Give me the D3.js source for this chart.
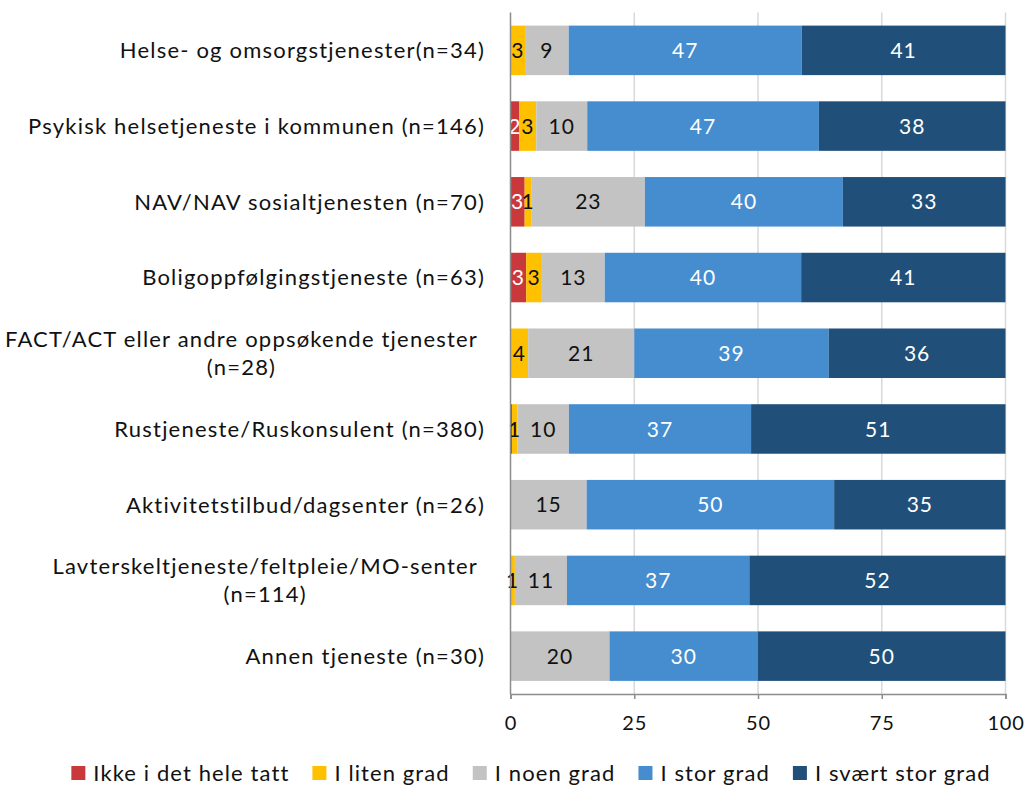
<!DOCTYPE html>
<html>
<head>
<meta charset="utf-8">
<script src="https://cdn.jsdelivr.net/npm/d3@7"></script>
<style>
  html, body { margin: 0; padding: 0; background: #fff; }
  svg { display: block; font-family: Lato, "Open Sans", sans-serif; }
</style>
</head>
<body>
<svg id="chart" width="1026" height="787"></svg>
<script>
// ---- Data (percent) ----
const categories = [
  "Helse- og omsorgstjenester(n=34)",
  "Psykisk helsetjeneste i kommunen (n=146)",
  "NAV/NAV sosialtjenesten (n=70)",
  "Boligoppfølgingstjeneste (n=63)",
  "FACT/ACT eller andre oppsøkende tjenester|(n=28)",
  "Rustjeneste/Ruskonsulent (n=380)",
  "Aktivitetstilbud/dagsenter (n=26)",
  "Lavterskeltjeneste/feltpleie/MO-senter|(n=114)",
  "Annen tjeneste (n=30)"
];
const seriesNames = ["Ikke i det hele tatt", "I liten grad", "I noen grad", "I stor grad", "I svært stor grad"];
const ikke   = [0,     1.8,  2.86,  3.17,  0,     0.3,  0,     0,     0];
const liten  = [2.94,  3.4,  1.43,  3.17,  3.57,  1.1,  0,     0.88,  0];
const noen   = [8.82,  10.3, 22.86, 12.7,  21.43, 10.4, 15.38, 10.53, 20];
const stor   = [47.06, 46.8, 40,    39.68, 39.29, 36.8, 50,    36.84, 30];
const svaert = [41.18, 37.7, 32.86, 41.27, 35.71, 51.4, 34.62, 51.75, 50];
const xTicks = [0, 25, 50, 75, 100];

const colors = ["#c9393b", "#ffc000", "#c3c3c3", "#458dcf", "#20507a"];
const labelColors = ["#ffffff", "#111111", "#111111", "#ffffff", "#ffffff"];

(function () {
const seriesValues = [ikke, liten, noen, stor, svaert];
const rows = categories.map((c, i) => {
  const r = { cat: c };
  seriesNames.forEach((s, k) => r[s] = seriesValues[k][i]);
  return r;
});

const svg = d3.select("#chart");
const pLeft = 510.5, pRight = 1005.5, pTop = 12.5, pBottom = 694;

const x = d3.scaleLinear().domain([0, 100]).range([pLeft, pRight]);
const y = d3.scaleBand().domain(categories).range([pTop, pBottom])
  .paddingInner(0.346).paddingOuter(0.173);

// gridlines
svg.append("g").selectAll("line").data(xTicks.filter(t => t > 0)).join("line")
  .attr("x1", d => x(d)).attr("x2", d => x(d))
  .attr("y1", pTop).attr("y2", pBottom)
  .attr("stroke", "#d9d9d9").attr("stroke-width", 1.5);

// bars
const stacked = d3.stack().keys(seriesNames)(rows);
const gSeries = svg.append("g").selectAll("g").data(stacked).join("g")
  .attr("fill", (d, i) => colors[i]);
gSeries.selectAll("rect").data(d => d).join("rect")
  .attr("x", d => x(d[0]))
  .attr("width", d => Math.max(0, x(d[1]) - x(d[0])))
  .attr("y", d => y(d.data.cat))
  .attr("height", y.bandwidth());

// value labels
stacked.forEach((s, k) => {
  svg.append("g").selectAll("text").data(s.filter(d => Math.round(d[1] - d[0]) >= 1)).join("text")
    .attr("x", d => x((d[0] + d[1]) / 2))
    .attr("y", d => y(d.data.cat) + y.bandwidth() / 2)
    .attr("dy", "0.36em")
    .attr("text-anchor", "middle")
    .attr("font-size", 21)
    .attr("letter-spacing", 1)
    .attr("fill", labelColors[k])
    .text(d => Math.round(d[1] - d[0]));
});

// y axis line
svg.append("line")
  .attr("x1", pLeft).attr("x2", pLeft).attr("y1", pTop).attr("y2", pBottom)
  .attr("stroke", "#8c8c8c").attr("stroke-width", 1.5);

// x axis
const xAxis = d3.axisBottom(x).tickValues(xTicks).tickSize(5).tickPadding(17).tickFormat(d3.format("d"));
const gx = svg.append("g").attr("transform", `translate(0,${pBottom})`).call(xAxis);
gx.select(".domain").attr("stroke", "#8c8c8c").attr("stroke-width", 1.5);
gx.selectAll(".tick line").attr("stroke", "#8c8c8c").attr("stroke-width", 1.5);
gx.selectAll(".tick text").attr("font-size", 20).attr("fill", "#111")
  .attr("letter-spacing", 0.8)
  .attr("font-family", "Lato, sans-serif");

// category labels
const catG = svg.append("g").attr("font-size", 22).attr("letter-spacing", 1.2).attr("fill", "#111");
categories.forEach(c => {
  const lines = c.split("|");
  const cy = y(c) + y.bandwidth() / 2;
  const lh = 28;
  if (lines.length === 1) {
    catG.append("text")
      .attr("x", 485).attr("y", cy).attr("dy", "0.36em")
      .attr("text-anchor", "end")
      .text(lines[0]);
  } else {
    const t1 = catG.append("text")
      .attr("x", 478).attr("y", cy - lh / 2).attr("dy", "0.36em")
      .attr("text-anchor", "end")
      .text(lines[0]);
    const w = t1.node().getComputedTextLength();
    catG.append("text")
      .attr("x", 478 - w / 2).attr("y", cy + lh / 2).attr("dy", "0.36em")
      .attr("text-anchor", "middle")
      .text(lines[1]);
  }
});

// legend
const legend = svg.append("g");
const items = [];
seriesNames.forEach((s, i) => {
  const g = legend.append("g");
  g.append("rect").attr("width", 14).attr("height", 14).attr("y", -7).attr("fill", colors[i]);
  const t = g.append("text").attr("x", 22).attr("dy", "0.36em")
    .attr("font-size", 22).attr("letter-spacing", 1.1).attr("fill", "#111").text(s);
  items.push({ g, w: 22 + t.node().getComputedTextLength() });
});
const gap = 23;
const total = d3.sum(items, d => d.w) + gap * (items.length - 1);
let cx = 531 - total / 2;
items.forEach(it => {
  it.g.attr("transform", `translate(${cx},773)`);
  cx += it.w + gap;
});
})();
</script>
</body>
</html>
